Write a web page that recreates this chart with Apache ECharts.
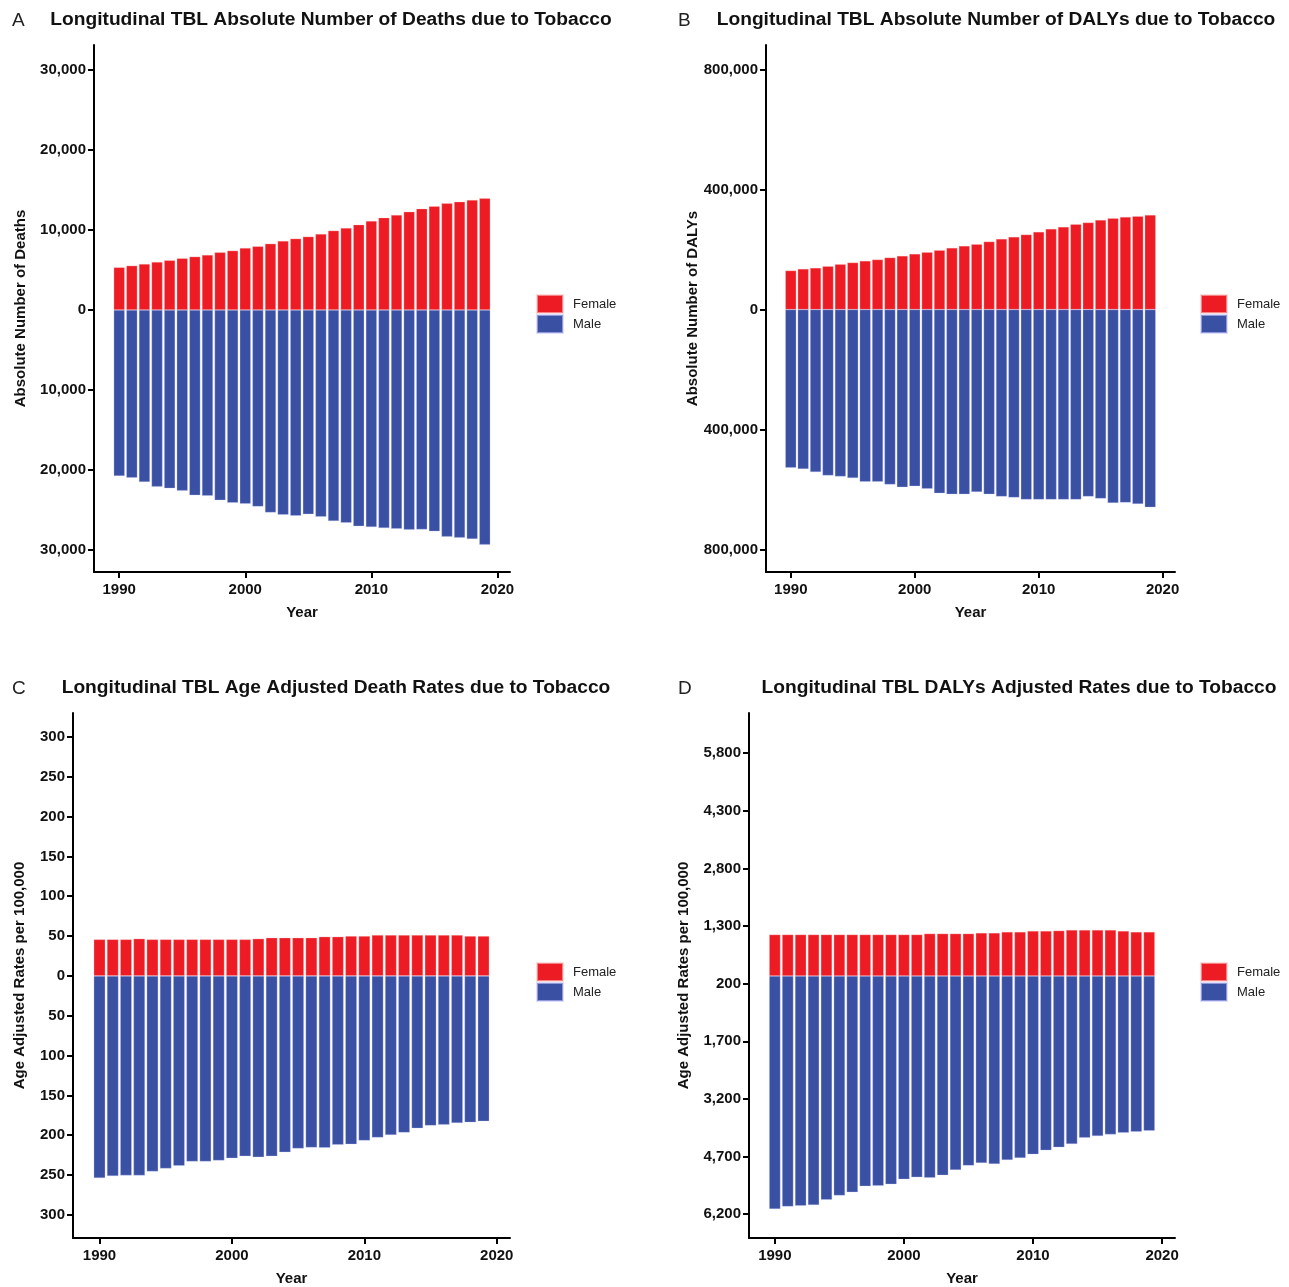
<!DOCTYPE html>
<html>
<head>
<meta charset="utf-8">
<script src="https://cdn.jsdelivr.net/npm/echarts@6/dist/echarts.min.js"></script>
<style>html,body{margin:0;padding:0;background:#fff}#c{width:1289px;height:1287px}</style>
</head>
<body>
<div id="c"></div>
<script>
const years = [1990,1991,1992,1993,1994,1995,1996,1997,1998,1999,2000,2001,2002,2003,2004,2005,2006,2007,2008,2009,2010,2011,2012,2013,2014,2015,2016,2017,2018,2019];
const xTicks = [1990,2000,2010,2020];

const deathsFemale = [5330,5540,5750,6000,6210,6460,6670,6880,7210,7420,7750,7960,8290,8630,8920,9170,9500,9920,10250,10670,11130,11540,11880,12290,12670,12960,13330,13540,13750,13960];
const deathsMale = [-20750,-20960,-21490,-22080,-22290,-22580,-23160,-23230,-23780,-24100,-24230,-24570,-25310,-25600,-25720,-25520,-25850,-26390,-26590,-27020,-27140,-27260,-27340,-27460,-27430,-27670,-28330,-28460,-28630,-29330];
const deathsTicks = [-30000,-20000,-10000,0,10000,20000,30000];

const dalysFemale = [130000,135500,138900,144400,151100,156700,162200,166700,173300,178900,185500,191100,197800,205500,212200,217800,226600,235500,242200,250000,258900,268900,275500,284400,290000,298900,304400,308900,311100,315500];
const dalysMale = [-527300,-531900,-542000,-553100,-556400,-562000,-574300,-574300,-583300,-592200,-588900,-597800,-612300,-615800,-615800,-607900,-615800,-623500,-626800,-633500,-633500,-633500,-633500,-633500,-623500,-630200,-644700,-643600,-648000,-659300];
const dalysTicks = [-800000,-400000,0,400000,800000];

const rateFemale = [45.8,45.8,45.8,46.7,45.8,45.8,45.8,45.8,45.8,45.8,45.8,45.8,46.7,47.9,47.9,47.9,47.9,49.2,49.2,50.0,50.0,51.3,51.3,51.3,51.3,51.3,51.3,51.3,50.0,50.0];
const rateMale = [-253.8,-251.3,-250.4,-250.4,-245.4,-241.7,-238.3,-232.9,-232.9,-231.7,-228.8,-226.3,-227.5,-226.3,-221.3,-216.7,-215.4,-215.8,-212.1,-211.3,-206.7,-202.9,-199.6,-196.7,-191.3,-187.9,-186.7,-184.6,-183.8,-182.5];
const rateTicks = [-300,-250,-200,-150,-100,-50,0,50,100,150,200,250,300];

const dalyRateFemale = [1078,1078,1078,1078,1078,1078,1078,1078,1078,1078,1078,1078,1103,1103,1103,1103,1121,1121,1147,1147,1172,1172,1181,1198,1198,1198,1198,1172,1147,1147];
const dalyRateMale = [-6067,-5998,-5981,-5963,-5825,-5713,-5626,-5471,-5462,-5419,-5289,-5237,-5254,-5185,-5047,-4935,-4866,-4892,-4788,-4736,-4641,-4537,-4459,-4373,-4209,-4166,-4122,-4079,-4053,-4027];
const dalyRateTicks = [-6200,-4700,-3200,-1700,-200,1300,2800,4300,5800];

const RED = '#ED1C24';
const BLUE = '#3A50A3';
const FONT = 'Liberation Sans, Arial, Helvetica, sans-serif';

const panels = [
  {letter:'A', title:'Longitudinal TBL Absolute Number of Deaths due to Tobacco', yName:'Absolute Number of Deaths',
   f:deathsFemale, m:deathsMale, ticks:deathsTicks, min:-32750, max:33125,
   grid:{left:94, top:45, width:416, height:527}, titleX:331, titleY:10, letterX:12, letterY:11, legend:{left:536, top:294}, barW:11, nameGap:66},
  {letter:'B', title:'Longitudinal TBL Absolute Number of DALYs due to Tobacco', yName:'Absolute Number of DALYs',
   f:dalysFemale, m:dalysMale, ticks:dalysTicks, min:-875000, max:882000,
   grid:{left:766, top:45, width:409, height:527}, titleX:996, titleY:10, letterX:678, letterY:11, legend:{left:1200, top:294}, barW:11, nameGap:66},
  {letter:'C', title:'Longitudinal TBL Age Adjusted Death Rates due to Tobacco', yName:'Age Adjusted Rates per 100,000',
   f:rateFemale, m:rateMale, ticks:rateTicks, min:-329, max:330,
   grid:{left:73, top:713, width:437, height:527}, titleX:336, titleY:678, letterX:12, letterY:679, legend:{left:536, top:962}, barW:11.5, nameGap:46},
  {letter:'D', title:'Longitudinal TBL DALYs Adjusted Rates due to Tobacco', yName:'Age Adjusted Rates per 100,000',
   f:dalyRateFemale, m:dalyRateMale, ticks:dalyRateTicks, min:-6819, max:6845,
   grid:{left:749, top:713, width:426, height:527}, titleX:1019, titleY:678, letterX:678, letterY:679, legend:{left:1200, top:962}, barW:11.3, nameGap:58}
];

const fmt = v => Math.abs(v).toLocaleString('en-US');

const option = {
  animation:false,
  backgroundColor:'#fff',
  textStyle:{fontFamily:FONT},
  title:[], grid:[], xAxis:[], yAxis:[], series:[], legend:[]
};

panels.forEach((p,i)=>{
  option.title.push({text:p.title, left:p.titleX, top:p.titleY, textAlign:'center', padding:0,
    textStyle:{fontFamily:FONT, fontSize:19.2, fontWeight:'bold', color:'#111'}});
  option.title.push({text:p.letter, left:p.letterX, top:p.letterY, padding:0,
    textStyle:{fontFamily:FONT, fontSize:19, fontWeight:'normal', color:'#222'}});
  option.grid.push(Object.assign({containLabel:false}, p.grid));
  option.xAxis.push({type:'value', gridIndex:i, min:1988, max:2021,
    name:'Year', nameLocation:'middle', nameGap:33,
    nameTextStyle:{fontFamily:FONT, fontSize:15, fontWeight:'bold', color:'#111'},
    axisLine:{show:true, onZero:false, lineStyle:{color:'#000', width:2}},
    axisTick:{show:true, length:6, lineStyle:{color:'#000', width:2}, customValues:xTicks},
    axisLabel:{customValues:xTicks, margin:10, fontFamily:FONT, fontSize:15, fontWeight:'bold', color:'#111',
      formatter: v => String(v)},
    splitLine:{show:false}});
  option.yAxis.push({type:'value', gridIndex:i, min:p.min, max:p.max,
    name:p.yName, nameLocation:'middle', nameGap:p.nameGap,
    nameTextStyle:{fontFamily:FONT, fontSize:15, fontWeight:'bold', color:'#111'},
    axisLine:{show:true, onZero:false, lineStyle:{color:'#000', width:2}},
    axisTick:{show:true, length:6, lineStyle:{color:'#000', width:2}, customValues:p.ticks},
    axisLabel:{customValues:p.ticks, margin:8, fontFamily:FONT, fontSize:15, fontWeight:'bold', color:'#111', formatter:fmt},
    splitLine:{show:false}});
  option.series.push({name:'Female', type:'bar', xAxisIndex:i, yAxisIndex:i, stack:'s'+i, barWidth:p.barW,
    itemStyle:{color:RED, borderColor:'rgba(255,200,200,0.6)', borderWidth:0.5},
    data: years.map((y,k)=>[y,p.f[k]])});
  option.series.push({name:'Male', type:'bar', xAxisIndex:i, yAxisIndex:i, stack:'s'+i, barWidth:p.barW,
    itemStyle:{color:BLUE, borderColor:'rgba(200,200,255,0.6)', borderWidth:0.5},
    data: years.map((y,k)=>[y,p.m[k]])});
  option.legend.push({left:p.legend.left, top:p.legend.top, orient:'vertical', padding:0,
    itemWidth:26, itemHeight:18, itemGap:0, icon:'rect', data:['Female','Male'],
    textStyle:{fontFamily:FONT, fontSize:13, color:'#222', padding:[0,0,0,5]}});
});

const chart = echarts.init(document.getElementById('c'), null, {renderer:'canvas'});
chart.setOption(option);
</script>
</body>
</html>
